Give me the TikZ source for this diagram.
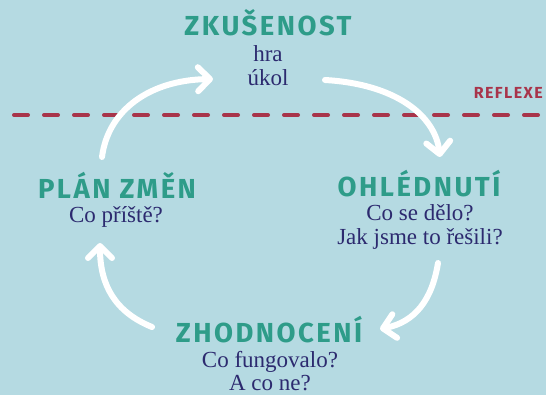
\documentclass[tikz,border=0pt]{standalone}
\usepackage{fontspec}
\setmainfont{Liberation Serif}
\newfontfamily\headfont[LetterSpace=9]{Fira Sans}
\usetikzlibrary{arrows.meta}
\definecolor{bgblue}{HTML}{B5DAE2}
\definecolor{headcol}{HTML}{2E9C89}
\definecolor{ink}{HTML}{2C2A6F}
\definecolor{reflred}{HTML}{A8344A}
\tikzset{
  phase/.style={font=\headfont\bfseries\fontsize{27.5}{32}\selectfont, text=headcol, anchor=base, inner sep=0pt},
  question/.style={font=\fontsize{23}{26}\selectfont, text=ink, anchor=base, inner sep=0pt},
  turn/.style={draw=white, line width=6pt, line cap=round, -{Straight Barb[length=12pt,width=24pt,round]}}
}
\begin{document}
\begin{tikzpicture}[x=1pt, y=-1pt]
\fill[bgblue] (0,0) rectangle (546,395);
\useasboundingbox (0,0) rectangle (546,395);

\draw[reflred, line width=4pt, line cap=round, dash pattern=on 14pt off 16pt] (14,115) -- (548,115);
\node[font=\headfont\bfseries\fontsize{16}{19}\selectfont, text=reflred, anchor=base east, inner sep=0pt] (0) at (543,99) {REFLEXE};

\node[phase] (1) at (268,36) {ZKUŠENOST};
\node[question] (1a) at (268,62) {hra};
\node[question] (1b) at (268,86) {úkol};

\node[phase] (2) at (419,197) {OHLÉDNUTÍ};
\node[question] (2a) at (420,221) {Co se dělo?};
\node[question] (2b) at (420,245) {Jak jsme to řešili?};

\node[phase] (3) at (269,342) {ZHODNOCENÍ};
\node[question] (3a) at (270,367) {Co fungovalo?};
\node[question] (3b) at (270,390) {A co ne?};

\node[phase] (4) at (117,199) {PLÁN ZMĚN};
\node[question] (4a) at (116,223) {Co příště?};

\coordinate (p1) at (102,157);
\coordinate (p2) at (213,79);
\coordinate (p3) at (325,80);
\coordinate (p4) at (440,157);
\coordinate (p5) at (438,263);
\coordinate (p6) at (380,329);
\coordinate (p7) at (152,327);
\coordinate (p8) at (100,243);

\draw[turn] (p1) .. controls (108,110) and (150,80) .. (p2);
\draw[turn] (p3) .. controls (395,84) and (435,115) .. (p4);
\draw[turn] (p5) .. controls (432,300) and (415,322) .. (p6);
\draw[turn] (p7) .. controls (115,312) and (100,285) .. (p8);
\end{tikzpicture}
\end{document}
